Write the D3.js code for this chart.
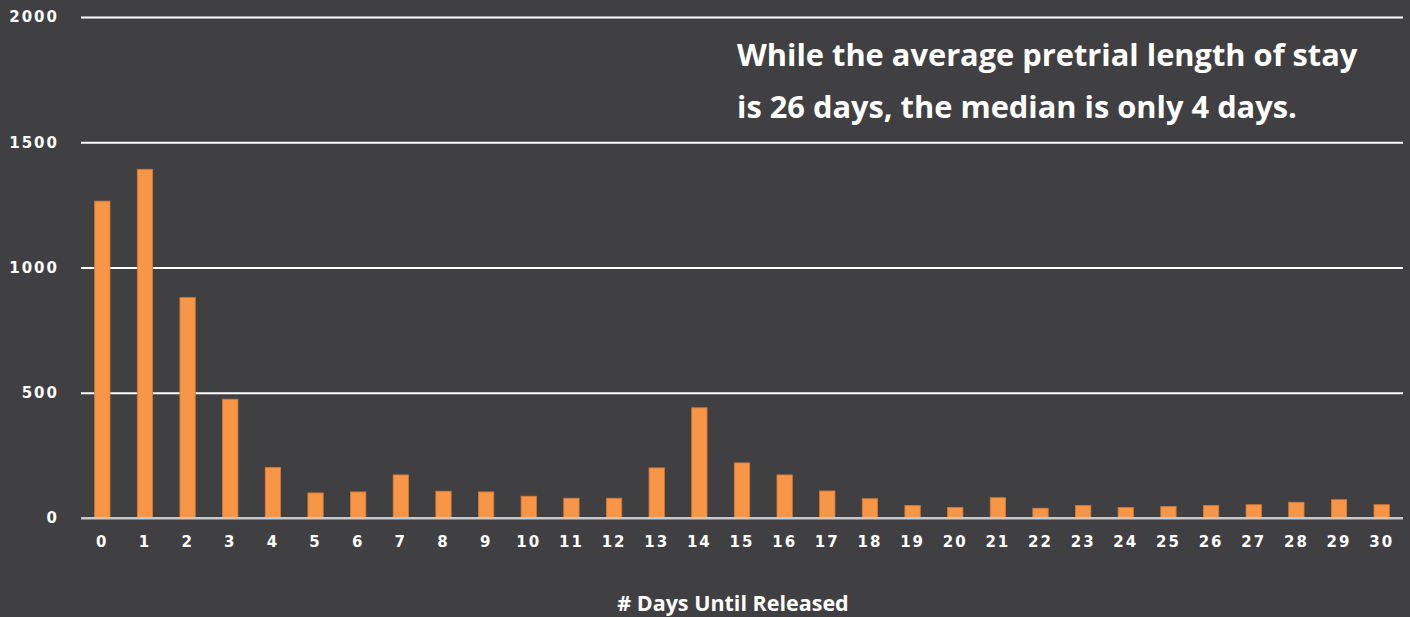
<!DOCTYPE html>
<html>
<head>
<meta charset="utf-8">
<script src="https://cdn.jsdelivr.net/npm/d3@7"></script>
<style>
	html, body { margin: 0; padding: 0; background: #404042; }
	svg { display: block; }
</style>
</head>
<body>
<svg id="chart" width="1410" height="617"></svg>
<script>
'use strict'

// days until released, 0..30
var days = d3.range(0, 31).map(String);
var counts = [1265, 1392, 880, 474, 202, 100, 104, 172, 107, 104, 87,
	79, 79, 200, 440, 220, 172, 108, 77, 50, 42, 81, 39, 50, 42,
	46, 50, 53, 63, 73, 53];
var yTicks = [0, 500, 1000, 1500, 2000];
var note = ['While the average pretrial length of stay',
	'is 26 days, the median is only 4 days.'];
var xTitle = '# Days Until Released';

function styleLabels(sel){
	sel.attr('fill', '#ffffff')
		.attr('font-family', 'DejaVu Sans')
		.attr('font-weight', 'bold')
		.attr('font-size', 15)
		.attr('letter-spacing', 2);
}

function draw(){
	var svg = d3.select('#chart');
	var margin = { left: 81, right: 7, top: 17, bottom: 99 };
	var width = 1410 - margin.left - margin.right;
	var height = 617 - margin.top - margin.bottom;

	var x = d3.scaleBand()
		.domain(days)
		.range([0, width])
		.paddingInner(0.64)
		.paddingOuter(0.32);

	var y = d3.scaleLinear()
		.domain([0, 2000])
		.range([height, 0]);

	var g = svg.append('g')
		.attr('transform', `translate(${margin.left},${margin.top})`);

	// gridlines
	var yAxis = d3.axisLeft(y)
		.tickValues(yTicks)
		.tickFormat(d3.format('d'))
		.tickSize(-width)
		.tickPadding(22);

	var ga = g.append('g').call(yAxis);
	ga.select('.domain').remove();
	ga.selectAll('.tick line')
		.attr('stroke', function(d){ return d === 0 ? '#c8c8c8' : '#ffffff'; })
		.attr('stroke-width', 2);
	styleLabels(ga.selectAll('.tick text'));

	// bars
	g.selectAll('rect.bar')
		.data(counts)
		.enter()
		.append('rect')
		.attr('class', 'bar')
		.attr('x', function(d, i){ return x(days[i]); })
		.attr('width', x.bandwidth())
		.attr('y', function(d){ return y(d); })
		.attr('height', function(d){ return y(0) - y(d); })
		.attr('fill', '#f79646')
		.attr('stroke', '#d07a38')
		.attr('stroke-width', 0.8);

	// baseline on top of bars
	g.append('line')
		.attr('x1', 0)
		.attr('x2', width)
		.attr('y1', y(0))
		.attr('y2', y(0))
		.attr('stroke', '#c8c8c8')
		.attr('stroke-width', 2);

	var xAxis = d3.axisBottom(x)
		.tickSize(0)
		.tickPadding(18);

	var gx = g.append('g')
		.attr('transform', `translate(0,${height})`)
		.call(xAxis);
	gx.select('.domain').remove();
	styleLabels(gx.selectAll('.tick text'));

	svg.append('text')
		.attr('x', 733)
		.attr('y', 611)
		.attr('text-anchor', 'middle')
		.attr('fill', '#ffffff')
		.attr('font-family', 'Open Sans')
		.attr('font-weight', 'bold')
		.attr('font-size', 21.5)
		.text(xTitle);

	svg.append('g')
		.selectAll('text')
		.data(note)
		.enter()
		.append('text')
		.attr('x', 737)
		.attr('y', function(d, i){ return 66 + i * 52; })
		.attr('fill', '#ffffff')
		.attr('font-family', 'Open Sans')
		.attr('font-weight', 'bold')
		.attr('font-size', 30.8)
		.text(function(d){ return d; });
}

draw();
</script>
</body>
</html>
